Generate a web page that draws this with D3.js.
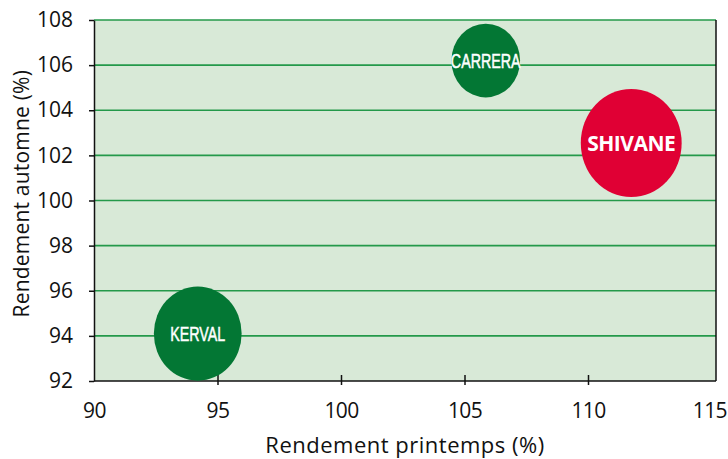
<!DOCTYPE html>
<html><head><meta charset="utf-8">
<script src="https://cdn.jsdelivr.net/npm/d3@7"></script>
<style>body{margin:0;background:#fff}svg{display:block}</style>
</head><body>
<svg id="c" width="728" height="459"></svg>
<script>
const varieties = ["CARRERA", "SHIVANE", "KERVAL"];
const springYield = [105.86, 111.75, 94.2];
const autumnYield = [106.2, 102.55, 94.1];
const bubbleSize = [12.6, 27.2, 20.6];
const bubbleColor = ["green", "red", "green"];
const xTicks = [90, 95, 100, 105, 110, 115];
const yTicks = [92, 94, 96, 98, 100, 102, 104, 106, 108];
const xTitle = "Rendement printemps (%)";
const yTitle = "Rendement automne (%)";

const W = 728, H = 459;
const m = {left: 94, top: 20, right: 12, bottom: 78};
const iw = W - m.left - m.right, ih = H - m.top - m.bottom;
const svg = d3.select("#c");
const g = svg.append("g").attr("transform", `translate(${m.left},${m.top})`);
const x = d3.scaleLinear().domain([90, 115]).range([0, iw - 4.5]);
const y = d3.scaleLinear().domain([92, 108]).range([ih, 0]);
const r = d3.scaleSqrt().domain([0, d3.max(bubbleSize)]).range([0, 52]);
const colors = {green: "#037734", red: "#e00034"};
const font = "'Open Sans', 'Noto Sans', sans-serif";
const labelFont = "'Liberation Sans', Arial, sans-serif";

g.append("rect").attr("width", iw).attr("height", ih).attr("fill", "#d8e9d7");
// gridlines
g.append("g").selectAll("line").data(yTicks.filter(d => d > 92)).join("line")
  .attr("x1", 0).attr("x2", iw).attr("y1", d => y(d)).attr("y2", d => y(d))
  .attr("stroke", "#24994a").attr("stroke-width", 1.6);

// right border
g.append("line").attr("x1", iw).attr("x2", iw).attr("y1", 0).attr("y2", ih)
  .attr("stroke", "#111").attr("stroke-width", 1.5);

// y axis
const ya = g.append("g").call(d3.axisLeft(y).tickValues(yTicks).tickSize(5).tickPadding(16).tickSizeOuter(0));
ya.select(".domain").attr("stroke", "#111").attr("stroke-width", 1.5);
ya.selectAll(".tick line").attr("stroke", "#111").attr("stroke-width", 1.5);
ya.selectAll("text").attr("font-family", font).attr("font-size", 21).attr("font-weight", 500).attr("fill", "#111");

// x axis
const xa = g.append("g").attr("transform", `translate(0,${ih})`)
  .call(d3.axisBottom(x).tickValues(xTicks).tickSize(4).tickPadding(18).tickSizeOuter(0));
xa.select(".domain").attr("stroke", "#111").attr("stroke-width", 1.5)
  .attr("d", `M0,0H${iw}`);
xa.selectAll(".tick line").attr("y1", -6).attr("stroke", "#111").attr("stroke-width", 1.5)
  .attr("display", d => (d === 90 || d === 115) ? "none" : null);
xa.selectAll("text").attr("font-family", font).attr("font-size", 21).attr("font-weight", 500).attr("fill", "#111")
  .attr("letter-spacing", -0.6)
  .attr("text-anchor", d => d === 115 ? "end" : "middle")
  .attr("dx", d => d === 115 ? 15 : 0);

// titles
svg.append("text").attr("x", 405).attr("y", 453).attr("text-anchor", "middle")
  .attr("font-family", font).attr("font-size", 22).attr("font-weight", 500).attr("letter-spacing", 0.5)
  .attr("fill", "#111").text(xTitle);
svg.append("text").attr("transform", `translate(29,${m.top + y(100.3)}) rotate(-90)`).attr("text-anchor", "middle")
  .attr("font-family", font).attr("font-size", 21).attr("font-weight", 500).attr("letter-spacing", 0.2)
  .attr("fill", "#111").text(yTitle);

// bubbles
const data = varieties.map((v, i) => ({name: v, x: springYield[i], y: autumnYield[i], s: bubbleSize[i], c: bubbleColor[i]}));
const b = g.append("g").selectAll("g").data(data).join("g")
  .attr("transform", d => `translate(${x(d.x)},${y(d.y)})`);
b.append("ellipse").attr("rx", d => r(d.s) * 0.97).attr("ry", d => r(d.s) * 1.04)
  .attr("fill", d => colors[d.c]);
b.append("text").attr("text-anchor", "middle").attr("dy", "0.36em")
  .attr("fill", "#fff")
  .attr("font-family", d => d.c === "red" ? font : labelFont)
  .attr("font-weight", d => d.c === "red" ? 700 : 400)
  .attr("font-size", 21)
  .attr("letter-spacing", d => d.c === "red" ? -0.5 : 0)
  .attr("stroke", d => d.c === "red" ? null : "#fff")
  .attr("stroke-width", d => d.c === "red" ? null : 0.5)
  .attr("transform", d => d.c === "red" ? null : "scale(0.68,1)")
  .text(d => d.name);
</script>
</body></html>
